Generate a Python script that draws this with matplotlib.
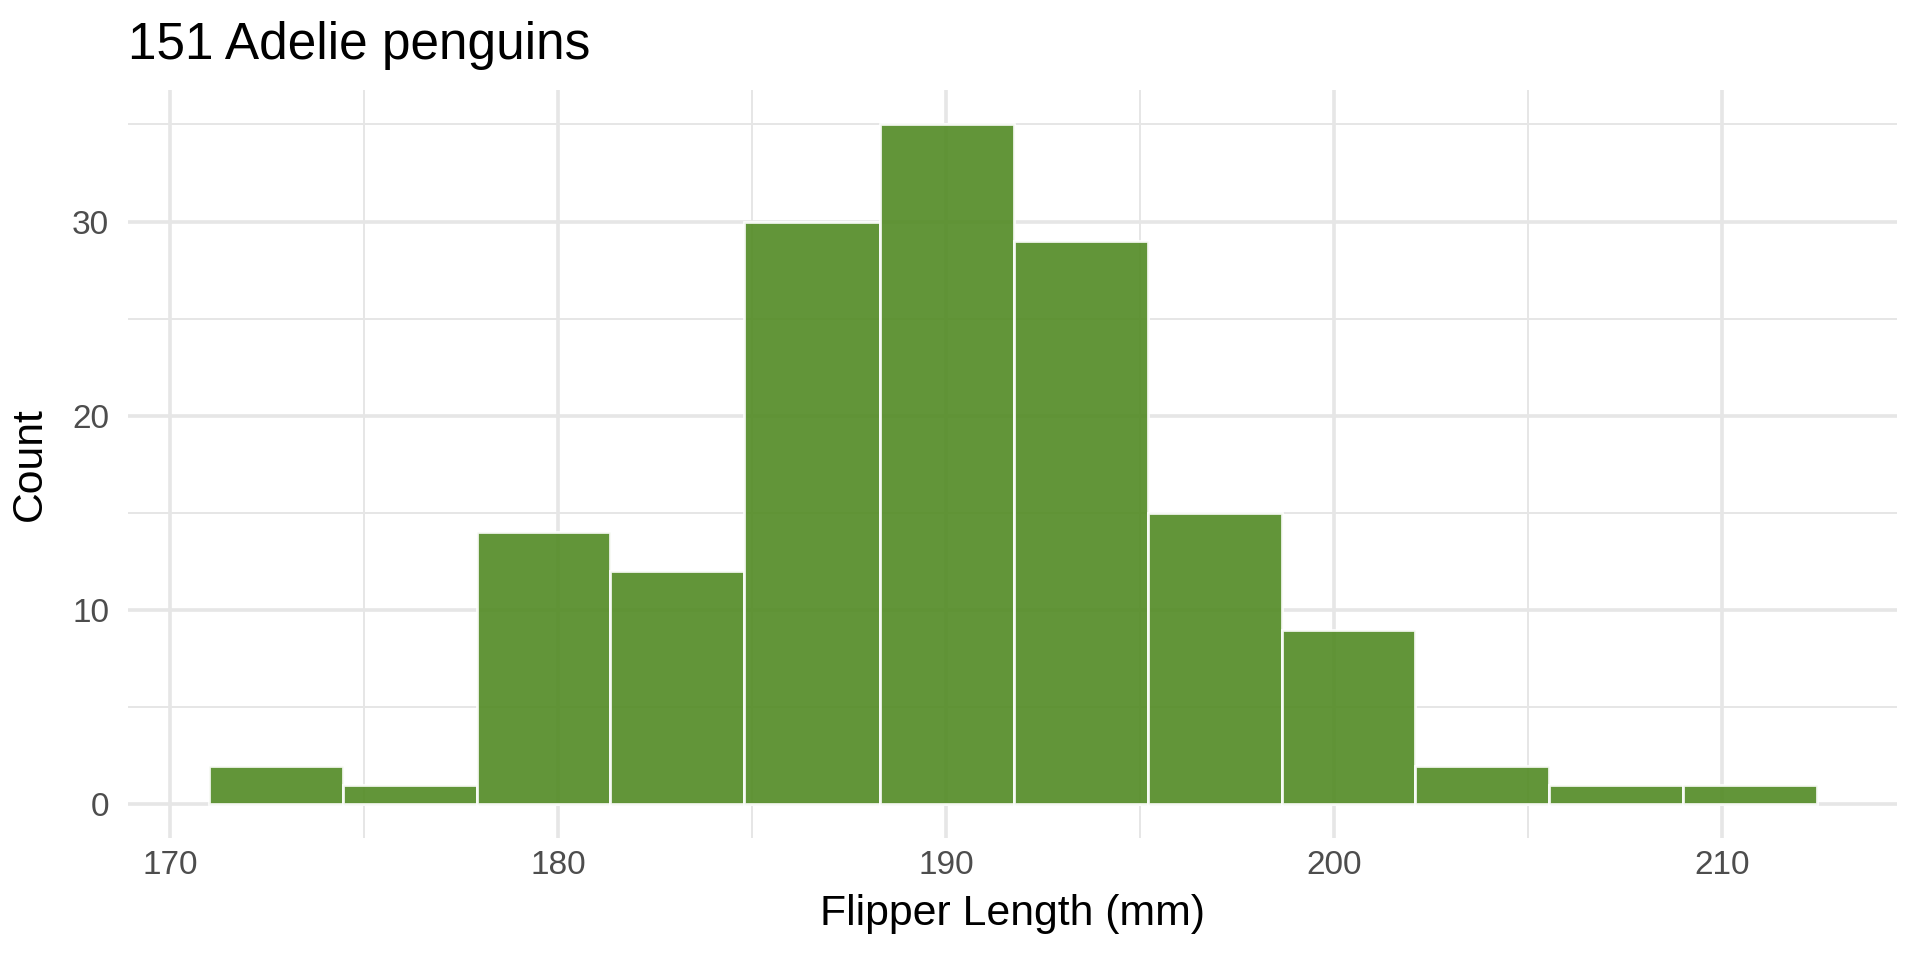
import numpy as np
import matplotlib.pyplot as plt

# ----------------------------
# Data
# ----------------------------
bin_edges = [171.0, 174.45, 177.9, 181.35, 184.8, 188.3, 191.75,
             195.2, 198.65, 202.1, 205.55, 209.0, 212.45]
counts = [2, 1, 14, 12, 30, 35, 29, 15, 9, 2, 1, 1]

x_ticks = [170, 180, 190, 200, 210]
x_minor = [175, 185, 195, 205]
y_ticks = [0, 10, 20, 30]
y_minor = [5, 15, 25, 35]

title = f"{sum(counts)} Adelie penguins"

# ----------------------------
# Style
# ----------------------------
plt.rcParams["font.family"] = ["Liberation Sans", "DejaVu Sans"]
GRID = "#E6E6E6"
FILL = "#518A23"

fig = plt.figure(figsize=(9.6, 4.8), dpi=200)
ax = fig.add_axes([0.0669, 0.1266, 0.9213, 0.7792])

edges = np.array(bin_edges)
ax.bar(
    edges[:-1], counts, width=np.diff(edges), align="edge",
    color=FILL, alpha=0.9, edgecolor="white", linewidth=1.0, zorder=3
)

# axis limits with ggplot-like 5% expansion
span = edges[-1] - edges[0]
ax.set_xlim(edges[0] - 0.05 * span, edges[-1] + 0.05 * span)
ytop = max(counts)
ax.set_ylim(-0.05 * ytop, ytop * 1.05)

ax.set_xticks(x_ticks)
ax.set_xticks(x_minor, minor=True)
ax.set_yticks(y_ticks)
ax.set_yticks(y_minor, minor=True)

ax.grid(which="major", color=GRID, linewidth=1.3, zorder=0)
ax.grid(which="minor", color=GRID, linewidth=0.7, zorder=0)
ax.set_axisbelow(True)

for s in ax.spines.values():
    s.set_visible(False)

ax.tick_params(which="both", length=0)
ax.tick_params(axis="x", labelsize=12, colors="#4D4D4D", pad=4)
ax.tick_params(axis="y", labelsize=12, colors="#4D4D4D", pad=7)

ax.set_xlabel("Flipper Length (mm)", fontsize=15.4, color="black", labelpad=5)
ax.set_ylabel("Count", fontsize=15.4, color="black", labelpad=8)

fig.text(0.0669, 1 - 59 / 960, title, fontsize=18.5, color="black",
         ha="left", va="baseline")

fig.savefig("out.png", dpi=200, facecolor="white")
plt.close(fig)
